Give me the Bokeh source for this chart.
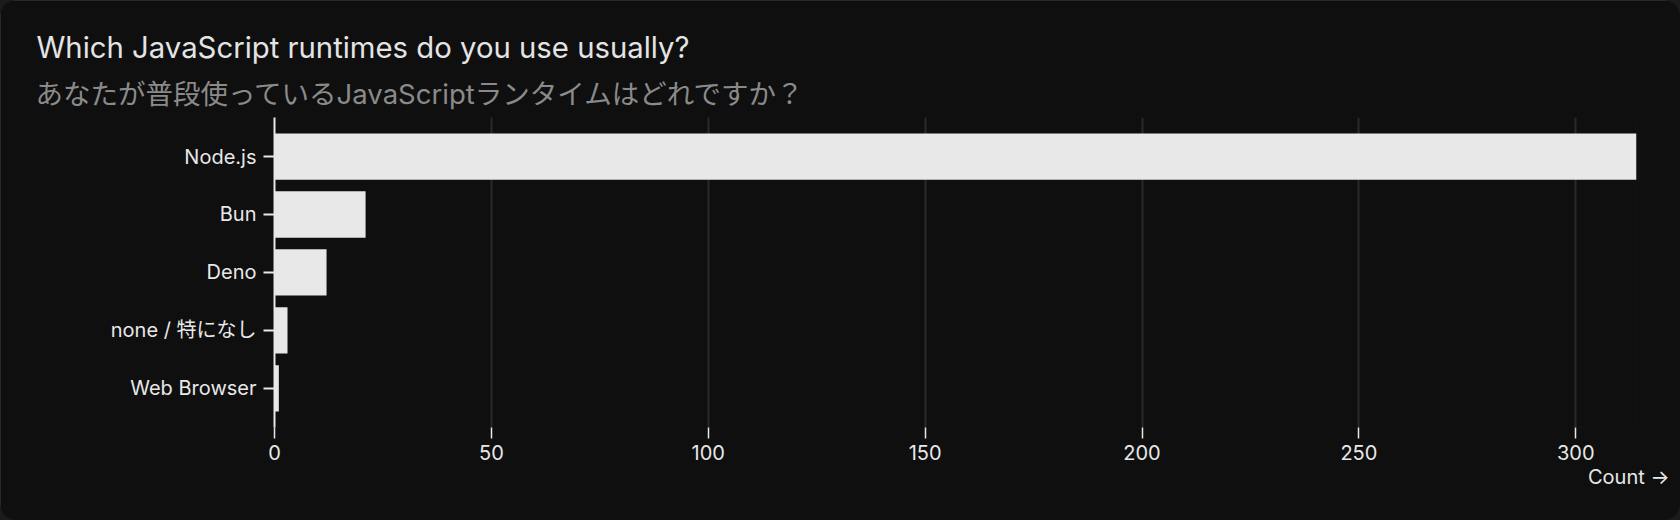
from bokeh.plotting import figure
from bokeh.models import Range1d, FixedTicker, Title, ColumnDataSource, GlobalInlineStyleSheet
from bokeh.embed import file_html
from bokeh.resources import INLINE

# ---- data ----
categories = ["Node.js", "Bun", "Deno", "none / 特になし", "Web Browser"]
counts = [314, 21, 12, 3, 1]
x_ticks = [0, 50, 100, 150, 200, 250, 300]
title_text = "Which JavaScript runtimes do you use usually?"
subtitle_text = "あなたが普段使っているJavaScriptランタイムはどれですか？"
x_label_text = "Count →"

# ---- style ----
W, H = 1680, 520
BG = "#0f0f0f"
FG = "#e8e8e8"
GRID = "#2a2a2a"
FONT = "Inter, 'Noto Sans CJK JP', sans-serif"

positions = list(range(len(categories)))
src = ColumnDataSource(dict(y=positions, right=counts, cat=categories))

x_max = max(counts)
y_top = -0.674
y_bottom = len(categories) - 0.324
p = figure(width=W, height=H, output_backend="svg", toolbar_location=None, title=None,
           x_range=Range1d(0, x_max), y_range=Range1d(y_bottom, y_top),
           min_border_left=274, min_border_right=44, min_border_top=117, min_border_bottom=93)

p.stylesheets = [GlobalInlineStyleSheet(css="html,body{margin:0;padding:0;background:#1b1b1b;}")]
p.styles = {"border-radius": "16px", "overflow": "hidden",
            "outline": "1px solid #333333", "outline-offset": "-1px"}

p.background_fill_color = BG
p.border_fill_color = BG
p.outline_line_color = None

# grid
p.ygrid.visible = False
p.xgrid.ticker = FixedTicker(ticks=x_ticks)
p.xgrid.grid_line_color = GRID
p.xgrid.grid_line_width = 2

# x axis
xa = p.xaxis[0]
xa.ticker = FixedTicker(ticks=x_ticks)
xa.axis_line_color = None
xa.major_tick_line_color = FG
xa.major_tick_line_width = 1.5
xa.major_tick_out = 11
xa.major_tick_in = 0
xa.minor_tick_line_color = None
xa.major_label_text_font = FONT
xa.major_label_text_font_size = "20px"
xa.major_label_text_color = FG
xa.major_label_standoff = 6

# y axis
ya = p.yaxis[0]
ya.ticker = FixedTicker(ticks=positions)
ya.major_label_overrides = {i: c for i, c in zip(positions, categories)}
ya.axis_line_color = FG
ya.axis_line_width = 2
ya.major_tick_line_color = FG
ya.major_tick_line_width = 2
ya.major_tick_out = 11
ya.major_tick_in = 0
ya.minor_tick_line_color = None
ya.major_label_text_font = FONT
ya.major_label_text_font_size = "20px"
ya.major_label_text_color = FG
ya.major_label_standoff = 7

p.hbar(y="y", right="right", left=0, height=0.8, source=src,
       fill_color=FG, line_color=None)

# titles (first added sits nearest the frame)
p.add_layout(Title(text=subtitle_text, align="left", offset=-239, standoff=14,
                   text_font=FONT, text_font_size="27.5px", text_color="#8a8a8a",
                   text_font_style="normal"), "above")
p.add_layout(Title(text=title_text, align="left", offset=-238, standoff=5,
                   text_font=FONT, text_font_size="29.3px", text_color="#e4e4e4",
                   text_font_style="normal"), "above")
p.add_layout(Title(text=x_label_text, align="right", offset=-33, standoff=0,
                   text_font=FONT, text_font_size="20px", text_color=FG,
                   text_font_style="normal"), "below")

open("out.html", "w").write(file_html(p, INLINE))
